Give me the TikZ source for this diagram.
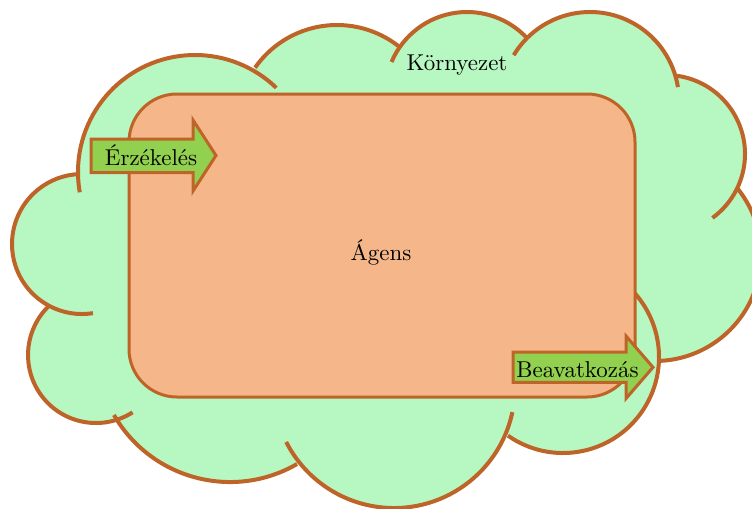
\documentclass[tikz,border=0pt]{standalone}
\usepackage{fontspec}
\definecolor{cloudgreen}{RGB}{183,247,193}
\definecolor{rim}{RGB}{191,100,40}
\definecolor{peach}{RGB}{245,183,138}
\definecolor{arrowgreen}{RGB}{146,208,80}
\tikzset{
  lab/.style={scale=1.72, inner sep=0pt, anchor=base},
  puffline/.style={draw=rim, line width=3pt},
  agentbox/.style={draw=rim, fill=peach, line width=2.25pt, rounded corners=36pt,
    minimum width=379.5pt, minimum height=227.25pt, inner sep=0pt},
  arrowshape/.style={draw=rim, fill=arrowgreen, line width=2.25pt}
}
\begin{document}
\begin{tikzpicture}[x=0.75pt,y=0.75pt]
\useasboundingbox (0,0) rectangle (752,-508);
% cloud fill
\foreach \cx/\cy/\r/\a/\b in {82/244/70/-81/-268, 195/172/117/190/46, 337/125/100/145/51,
  467/94/82/157/43, 590/101/89/149/9, 666/154/79/82/-54, 655/255/106/39/-87,
  563/357/96/55/-125, 394/387/121/-12/-153, 230/348/134/-60/-150, 96/355/68/-57.5/-227}
  {\fill[cloudgreen] (\cx,-\cy) circle[radius=\r];}
\fill[cloudgreen] (82,-244) -- (195,-172) -- (337,-125) -- (467,-94) -- (590,-101) -- (666,-154)
  -- (655,-255) -- (563,-357) -- (394,-387) -- (230,-348) -- (96,-355) -- cycle;
% cloud outline
\foreach \cx/\cy/\r/\a/\b in {82/244/70/-81/-268, 195/172/117/190/46, 337/125/100/145/51,
  467/94/82/157/43, 590/101/89/149/9, 666/154/79/82/-54, 655/255/106/39/-87,
  563/357/96/55/-125, 394/387/121/-12/-153, 230/348/134/-60/-150, 96/355/68/-57.5/-227}
  {\draw[puffline] ([shift={(\cx,-\cy)}]\a:\r) arc[start angle=\a, end angle=\b, radius=\r];}
% agent box
\node[agentbox] (agens) at (382,-245.5) {};
\node[lab] (agenslabel) at (381,-260.5) {Ágens};
% arrows
\draw[arrowshape] (91,-139) -- (193,-139) -- (193,-120) -- (216,-155.5) -- (193,-191)
  -- (193,-172.5) -- (91,-172.5) -- cycle;
\draw[arrowshape] (513,-352) -- (626,-352) -- (626,-336) -- (653,-367.3) -- (626,-398.5)
  -- (626,-382.3) -- (513,-382.3) -- cycle;
\node[lab] (env) at (457,-70.5) {Környezet};
\node[lab] (sense) at (151,-165.5) {Érzékelés};
\node[lab] (act) at (577.5,-377) {Beavatkozás};
\end{tikzpicture}
\end{document}
